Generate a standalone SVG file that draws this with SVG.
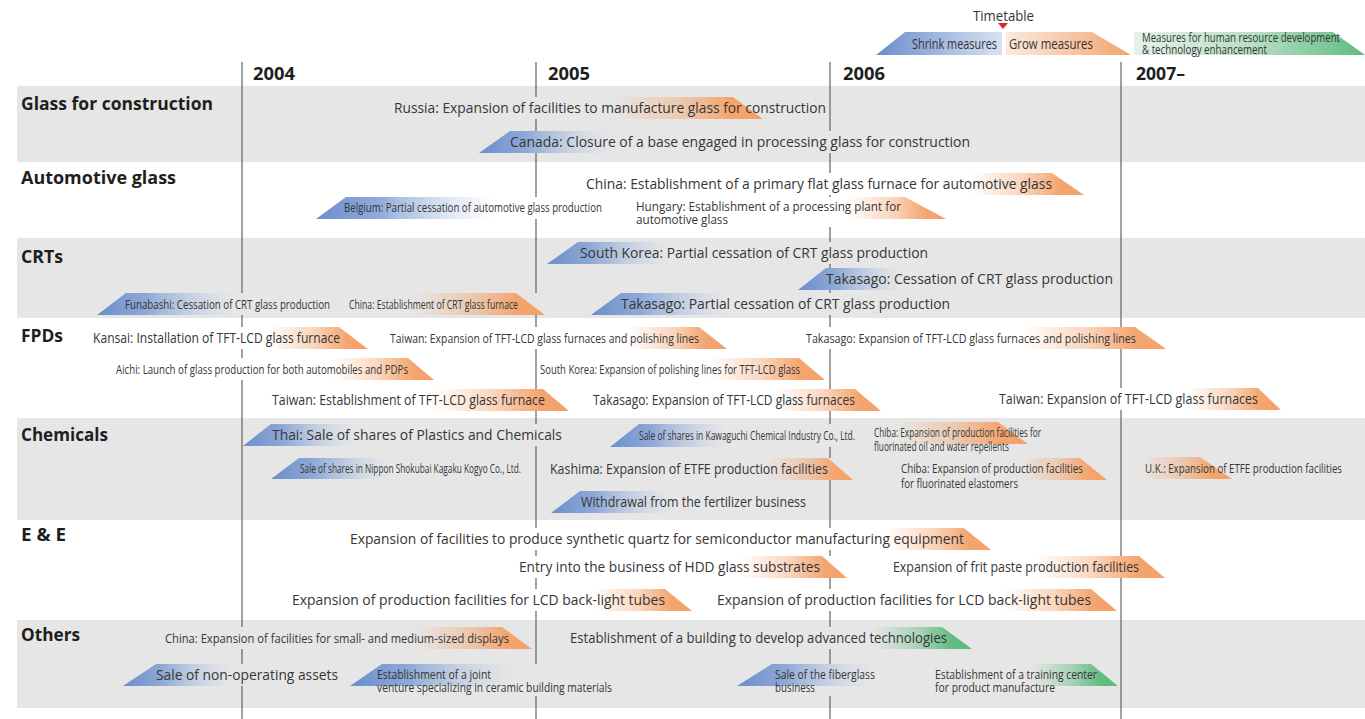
<svg xmlns="http://www.w3.org/2000/svg" width="1365" height="719" viewBox="0 0 1365 719">
<defs>
<linearGradient id="gS" x1="0" y1="0" x2="1" y2="0">
<stop offset="0" stop-color="#6a8ecb" stop-opacity="1"/>
<stop offset="0.35" stop-color="#7d9dd3" stop-opacity="0.85"/>
<stop offset="0.75" stop-color="#9bb4de" stop-opacity="0.3"/>
<stop offset="1" stop-color="#b0c4e6" stop-opacity="0"/>
</linearGradient>
<linearGradient id="gG" x1="0" y1="0" x2="1" y2="0">
<stop offset="0" stop-color="#f4a46d" stop-opacity="0"/>
<stop offset="0.45" stop-color="#f4a46d" stop-opacity="0.45"/>
<stop offset="0.8" stop-color="#f4a46d" stop-opacity="1"/>
<stop offset="1" stop-color="#f3a169" stop-opacity="1"/>
</linearGradient>
<linearGradient id="gN" x1="0" y1="0" x2="1" y2="0">
<stop offset="0" stop-color="#62bc82" stop-opacity="0"/>
<stop offset="0.45" stop-color="#62bc82" stop-opacity="0.45"/>
<stop offset="0.8" stop-color="#62bc82" stop-opacity="1"/>
<stop offset="1" stop-color="#5fbb80" stop-opacity="1"/>
</linearGradient>
<linearGradient id="lS" x1="0" y1="0" x2="1" y2="0">
<stop offset="0" stop-color="#6a8ecb"/>
<stop offset="1" stop-color="#d8e2f2"/>
</linearGradient>
<linearGradient id="lG" x1="0" y1="0" x2="1" y2="0">
<stop offset="0" stop-color="#fbeadf"/>
<stop offset="1" stop-color="#f3a46f"/>
</linearGradient>
<linearGradient id="lN" x1="0" y1="0" x2="1" y2="0">
<stop offset="0" stop-color="#e3f3e8"/>
<stop offset="0.5" stop-color="#b9e0c6"/>
<stop offset="1" stop-color="#5fbb80"/>
</linearGradient>
</defs>
<style>
.t{font-family:"Open Sans","Noto Sans","DejaVu Sans",sans-serif;font-size:14px;fill:#363636}
.c{font-size:13px}
.cs{font-size:12px}
.lab{font-family:"Open Sans","Noto Sans","DejaVu Sans",sans-serif;font-weight:700;font-size:17px;fill:#1e1e1e}
.bG{fill:#e6e6e6}
.bW{fill:#ffffff}
.sh{fill:url(#gS)}
.gr{fill:url(#gG)}
.gn{fill:url(#gN)}
.vl{stroke:#555555;stroke-width:1.1;fill:none}
</style>
<rect x="0" y="0" width="1365" height="719" fill="#ffffff"/>

<g id="bands">
<rect class="bG" x="17" y="86" width="1348" height="76"/>
<rect class="bG" x="17" y="238" width="1348" height="80"/>
<rect class="bG" x="17" y="418" width="1348" height="102"/>
<rect class="bG" x="17" y="620" width="1348" height="88"/>
</g>

<g id="connectors">
<line class="vl" x1="242" y1="62" x2="242" y2="719"/>
<line class="vl" x1="536" y1="62" x2="536" y2="719"/>
<line class="vl" x1="830" y1="62" x2="830" y2="719"/>
<line class="vl" x1="1121" y1="62" x2="1121" y2="719" stroke="#777777" stroke-width="1.4"/>
</g>

<g id="years">
<text class="lab" x="253" y="80" textLength="42" lengthAdjust="spacingAndGlyphs">2004</text>
<text class="lab" x="548" y="80" textLength="42" lengthAdjust="spacingAndGlyphs">2005</text>
<text class="lab" x="843" y="80" textLength="42" lengthAdjust="spacingAndGlyphs">2006</text>
<text class="lab" x="1136" y="80" textLength="49" lengthAdjust="spacingAndGlyphs">2007–</text>
</g>

<g id="legend">
<text class="t" transform="translate(973 21) scale(0.93 1)" textLength="65.6" lengthAdjust="spacingAndGlyphs">Timetable</text>
<polygon points="998,23 1008,23 1003,29" fill="#e3262c"/>
<polygon points="876,55 905,32 1002,32 1002,55" fill="url(#lS)"/>
<text class="t" transform="translate(912 49) scale(0.93 1)" textLength="91.4" lengthAdjust="spacingAndGlyphs">Shrink measures</text>
<polygon points="1006,32 1092,32 1131,55 1006,55" fill="url(#lG)"/>
<text class="t" transform="translate(1009 49) scale(0.93 1)" textLength="90.3" lengthAdjust="spacingAndGlyphs">Grow measures</text>
<polygon points="1134,32 1333,32 1365,55 1134,55" fill="url(#lN)"/>
<text class="t cs" transform="translate(1142 42) scale(0.74 1)"><tspan x="0" y="0" textLength="267.6" lengthAdjust="spacingAndGlyphs">Measures for human resource development</tspan><tspan x="0" y="12" textLength="168.9" lengthAdjust="spacingAndGlyphs">&amp; technology enhancement</tspan></text>
</g>

<g id="categories">
<text class="lab" x="21" y="110" textLength="192" lengthAdjust="spacingAndGlyphs">Glass for construction</text>
<text class="lab" x="21" y="184" textLength="155" lengthAdjust="spacingAndGlyphs">Automotive glass</text>
<text class="lab" x="21" y="263" textLength="42" lengthAdjust="spacingAndGlyphs">CRTs</text>
<text class="lab" x="21" y="342" textLength="42" lengthAdjust="spacingAndGlyphs">FPDs</text>
<text class="lab" x="21" y="441" textLength="87" lengthAdjust="spacingAndGlyphs">Chemicals</text>
<text class="lab" x="21" y="541" textLength="45" lengthAdjust="spacingAndGlyphs">E &amp; E</text>
<text class="lab" x="21" y="641" textLength="59" lengthAdjust="spacingAndGlyphs">Others</text>
</g>

<!-- Glass for construction -->
<g id="n-russia"><rect class="bG" x="390" y="97" width="438" height="22"/><polygon class="gr" points="613,97 733,97 763,119 613,119"/><text class="t" transform="translate(394 113) scale(0.93 1)" textLength="464.5" lengthAdjust="spacingAndGlyphs">Russia: Expansion of facilities to manufacture glass for construction</text></g>
<g id="n-canada"><rect class="bG" x="479" y="131" width="494" height="22"/><polygon class="sh" points="479,153 510,131 610,131 610,153"/><text class="t" transform="translate(510 147) scale(0.93 1)" textLength="494.6" lengthAdjust="spacingAndGlyphs">Canada: Closure of a base engaged in processing glass for construction</text></g>

<!-- Automotive glass -->
<g id="n-china-auto"><rect class="bW" x="582" y="173" width="504" height="22"/><polygon class="gr" points="970,173 1052,173 1084,195 970,195"/><text class="t" transform="translate(586 189) scale(0.93 1)" textLength="501.1" lengthAdjust="spacingAndGlyphs">China: Establishment of a primary flat glass furnace for automotive glass</text></g>
<g id="n-belgium"><rect class="bW" x="316" y="197" width="290" height="22"/><polygon class="sh" points="316,219 346,197 497,197 497,219"/><text class="t c" transform="translate(344 212) scale(0.74 1)" textLength="348.6" lengthAdjust="spacingAndGlyphs">Belgium: Partial cessation of automotive glass production</text></g>
<g id="n-hungary"><rect class="bW" x="632" y="197" width="315" height="30"/><polygon class="gr" points="849,197 905,197 946,219 849,219"/><text class="t cs" transform="translate(636 211) scale(0.74 1)"><tspan x="0" y="0" textLength="358.1" lengthAdjust="spacingAndGlyphs">Hungary: Establishment of a processing plant for</tspan><tspan x="0" y="13" textLength="124.3" lengthAdjust="spacingAndGlyphs">automotive glass</tspan></text></g>

<!-- CRTs -->
<g id="n-skorea-crt"><rect class="bG" x="547" y="242" width="384" height="22"/><polygon class="sh" points="547,264 578,242 670,242 670,264"/><text class="t" transform="translate(580 258) scale(0.93 1)" textLength="374.2" lengthAdjust="spacingAndGlyphs">South Korea: Partial cessation of CRT glass production</text></g>
<g id="n-takasago-cess"><rect class="bG" x="798" y="268" width="318" height="22"/><polygon class="sh" points="798,290 826,268 903,268 903,290"/><text class="t" transform="translate(826 284) scale(0.93 1)" textLength="308.6" lengthAdjust="spacingAndGlyphs">Takasago: Cessation of CRT glass production</text></g>
<g id="n-funabashi"><rect class="bG" x="97" y="293" width="237" height="22"/><polygon class="sh" points="97,315 126,293 235,293 235,315"/><text class="t c" transform="translate(125 309) scale(0.74 1)" textLength="277" lengthAdjust="spacingAndGlyphs">Funabashi: Cessation of CRT glass production</text></g>
<g id="n-china-crt"><rect class="bG" x="345" y="293" width="201" height="22"/><polygon class="gr" points="413,293 516,293 545,315 413,315"/><text class="t c" transform="translate(349 309) scale(0.74 1)" textLength="228.4" lengthAdjust="spacingAndGlyphs">China: Establishment of CRT glass furnace</text></g>
<g id="n-takasago-partial"><rect class="bG" x="591" y="293" width="363" height="22"/><polygon class="sh" points="591,315 621,293 728,293 728,315"/><text class="t" transform="translate(621 309) scale(0.93 1)" textLength="353.8" lengthAdjust="spacingAndGlyphs">Takasago: Partial cessation of CRT glass production</text></g>

<!-- FPDs -->
<g id="n-kansai"><rect class="bW" x="89" y="327" width="280" height="22"/><polygon class="gr" points="268,327 339,327 368,349 268,349"/><text class="t" transform="translate(93 343) scale(0.93 1)" textLength="265.6" lengthAdjust="spacingAndGlyphs">Kansai: Installation of TFT-LCD glass furnace</text></g>
<g id="n-taiwan-polish"><rect class="bW" x="386" y="327" width="342" height="22"/><polygon class="gr" points="627,327 699,327 727,349 627,349"/><text class="t c" transform="translate(390 343) scale(0.74 1)" textLength="417.6" lengthAdjust="spacingAndGlyphs">Taiwan: Expansion of TFT-LCD glass furnaces and polishing lines</text></g>
<g id="n-takasago-polish"><rect class="bW" x="802" y="327" width="365" height="22"/><polygon class="gr" points="1022,327 1135,327 1166,349 1022,349"/><text class="t c" transform="translate(806 343) scale(0.74 1)" textLength="445.9" lengthAdjust="spacingAndGlyphs">Takasago: Expansion of TFT-LCD glass furnaces and polishing lines</text></g>
<g id="n-aichi"><rect class="bW" x="112" y="358" width="323" height="22"/><polygon class="gr" points="333,358 408,358 434,380 333,380"/><text class="t c" transform="translate(116 374) scale(0.74 1)" textLength="394.6" lengthAdjust="spacingAndGlyphs">Aichi: Launch of glass production for both automobiles and PDPs</text></g>
<g id="n-skorea-polish"><rect class="bW" x="539" y="358" width="287" height="22"/><polygon class="gr" points="709,358 799,358 825,380 709,380"/><text class="t c" transform="translate(540 374) scale(0.74 1)" textLength="351.4" lengthAdjust="spacingAndGlyphs">South Korea: Expansion of polishing lines for TFT-LCD glass</text></g>
<g id="n-taiwan-estab"><rect class="bW" x="268" y="389" width="302" height="22"/><polygon class="gr" points="432,389 543,389 569,411 432,411"/><text class="t" transform="translate(272 405) scale(0.93 1)" textLength="293.5" lengthAdjust="spacingAndGlyphs">Taiwan: Establishment of TFT-LCD glass furnace</text></g>
<g id="n-takasago-furn"><rect class="bW" x="589" y="389" width="293" height="22"/><polygon class="gr" points="776,389 855,389 881,411 776,411"/><text class="t" transform="translate(593 405) scale(0.93 1)" textLength="281.7" lengthAdjust="spacingAndGlyphs">Takasago: Expansion of TFT-LCD glass furnaces</text></g>
<g id="n-taiwan-furn"><rect class="bW" x="995" y="388" width="287" height="22"/><polygon class="gr" points="1186,388 1258,388 1281,410 1186,410"/><text class="t" transform="translate(999 404) scale(0.93 1)" textLength="278.5" lengthAdjust="spacingAndGlyphs">Taiwan: Expansion of TFT-LCD glass furnaces</text></g>

<!-- Chemicals -->
<g id="n-thai"><rect class="bG" x="243" y="424" width="322" height="22"/><polygon class="sh" points="243,446 271,424 356,424 356,446"/><text class="t" transform="translate(272 440) scale(0.93 1)" textLength="311.8" lengthAdjust="spacingAndGlyphs">Thai: Sale of shares of Plastics and Chemicals</text></g>
<g id="n-kawaguchi"><rect class="bG" x="610" y="424" width="248" height="23"/><polygon class="sh" points="610,447 639,424 727,424 727,447"/><text class="t c" transform="translate(639 440) scale(0.74 1)" textLength="291.9" lengthAdjust="spacingAndGlyphs">Sale of shares in Kawaguchi Chemical Industry Co., Ltd.</text></g>
<g id="n-chiba-oil"><rect class="bG" x="870" y="422" width="174" height="33"/><polygon class="gr" points="898,422 998,422 1028,444 898,444"/><text class="t cs" transform="translate(874 437) scale(0.74 1)"><tspan x="0" y="0" textLength="225.7" lengthAdjust="spacingAndGlyphs">Chiba: Expansion of production facilities for</tspan><tspan x="0" y="14" textLength="182.4" lengthAdjust="spacingAndGlyphs">fluorinated oil and water repellents</tspan></text></g>
<g id="n-nippon"><rect class="bG" x="271" y="458" width="253" height="21"/><polygon class="sh" points="271,479 299,458 390,458 390,479"/><text class="t c" transform="translate(300 473) scale(0.74 1)" textLength="298.6" lengthAdjust="spacingAndGlyphs">Sale of shares in Nippon Shokubai Kagaku Kogyo Co., Ltd.</text></g>
<g id="n-kashima"><rect class="bG" x="546" y="458" width="308" height="22"/><polygon class="gr" points="766,458 828,458 853,480 766,480"/><text class="t" transform="translate(550 474) scale(0.93 1)" textLength="298.9" lengthAdjust="spacingAndGlyphs">Kashima: Expansion of ETFE production facilities</text></g>
<g id="n-chiba-elast"><rect class="bG" x="897" y="458" width="211" height="34"/><polygon class="gr" points="1020,458 1080,458 1107,480 1020,480"/><text class="t cs" transform="translate(901 473) scale(0.74 1)"><tspan x="0" y="0" textLength="245.9" lengthAdjust="spacingAndGlyphs">Chiba: Expansion of production facilities</tspan><tspan x="0" y="15" textLength="158.1" lengthAdjust="spacingAndGlyphs">for fluorinated elastomers</tspan></text></g>
<g id="n-uk"><rect class="bG" x="1141" y="457" width="204" height="22"/><polygon class="gr" points="1141,457 1200,457 1232,479 1141,479"/><text class="t c" transform="translate(1145 473) scale(0.74 1)" textLength="266.2" lengthAdjust="spacingAndGlyphs">U.K.: Expansion of ETFE production facilities</text></g>
<g id="n-withdrawal"><rect class="bG" x="551" y="491" width="258" height="22"/><polygon class="sh" points="551,513 580,491 673,491 673,513"/><text class="t" transform="translate(581 507) scale(0.93 1)" textLength="241.9" lengthAdjust="spacingAndGlyphs">Withdrawal from the fertilizer business</text></g>

<!-- E & E -->
<g id="n-quartz"><rect class="bW" x="346" y="528" width="646" height="22"/><polygon class="gr" points="885,528 964,528 991,550 885,550"/><text class="t" transform="translate(350 544) scale(0.93 1)" textLength="660.2" lengthAdjust="spacingAndGlyphs">Expansion of facilities to produce synthetic quartz for semiconductor manufacturing equipment</text></g>
<g id="n-hdd"><rect class="bW" x="515" y="556" width="333" height="22"/><polygon class="gr" points="741,556 822,556 847,578 741,578"/><text class="t" transform="translate(519 572) scale(0.93 1)" textLength="323.7" lengthAdjust="spacingAndGlyphs">Entry into the business of HDD glass substrates</text></g>
<g id="n-frit"><rect class="bW" x="889" y="556" width="277" height="22"/><polygon class="gr" points="1034,556 1139,556 1165,578 1034,578"/><text class="t" transform="translate(893 572) scale(0.93 1)" textLength="264.5" lengthAdjust="spacingAndGlyphs">Expansion of frit paste production facilities</text></g>
<g id="n-lcd1"><rect class="bW" x="288" y="589" width="405" height="22"/><polygon class="gr" points="594,589 665,589 692,611 594,611"/><text class="t" transform="translate(292 605) scale(0.93 1)" textLength="401.1" lengthAdjust="spacingAndGlyphs">Expansion of production facilities for LCD back-light tubes</text></g>
<g id="n-lcd2"><rect class="bW" x="713" y="589" width="405" height="22"/><polygon class="gr" points="1003,589 1091,589 1117,611 1003,611"/><text class="t" transform="translate(717 605) scale(0.93 1)" textLength="402.2" lengthAdjust="spacingAndGlyphs">Expansion of production facilities for LCD back-light tubes</text></g>

<!-- Others -->
<g id="n-china-disp"><rect class="bG" x="161" y="627" width="372" height="22"/><polygon class="gr" points="415,627 502,627 532,649 415,649"/><text class="t c" transform="translate(165 643) scale(0.74 1)" textLength="464.9" lengthAdjust="spacingAndGlyphs">China: Expansion of facilities for small- and medium-sized displays</text></g>
<g id="n-building"><rect class="bG" x="566" y="627" width="407" height="22"/><polygon class="gn" points="872,627 942,627 972,649 872,649"/><text class="t" transform="translate(570 643) scale(0.93 1)" textLength="405.4" lengthAdjust="spacingAndGlyphs">Establishment of a building to develop advanced technologies</text></g>
<g id="n-nonop"><rect class="bG" x="123" y="664" width="218" height="22"/><polygon class="sh" points="123,686 156,664 232,664 232,686"/><text class="t" transform="translate(156 680) scale(0.93 1)" textLength="195.7" lengthAdjust="spacingAndGlyphs">Sale of non-operating assets</text></g>
<g id="n-joint"><rect class="bG" x="350" y="664" width="265" height="32"/><polygon class="sh" points="350,686 382,664 513,664 513,686"/><text class="t cs" transform="translate(377 679) scale(0.74 1)"><tspan x="0" y="0" textLength="154.1" lengthAdjust="spacingAndGlyphs">Establishment of a joint</tspan><tspan x="0" y="13" textLength="317.6" lengthAdjust="spacingAndGlyphs">venture specializing in ceramic building materials</tspan></text></g>
<g id="n-fiber"><rect class="bG" x="737" y="664" width="141" height="32"/><polygon class="sh" points="737,686 772,664 872,664 872,686"/><text class="t cs" transform="translate(775 679) scale(0.74 1)"><tspan x="0" y="0" textLength="135.1" lengthAdjust="spacingAndGlyphs">Sale of the fiberglass</tspan><tspan x="0" y="13" textLength="54.1" lengthAdjust="spacingAndGlyphs">business</tspan></text></g>
<g id="n-training"><rect class="bG" x="931" y="664" width="188" height="32"/><polygon class="gn" points="1030,664 1091,664 1118,686 1030,686"/><text class="t cs" transform="translate(935 679) scale(0.74 1)"><tspan x="0" y="0" textLength="218.9" lengthAdjust="spacingAndGlyphs">Establishment of a training center</tspan><tspan x="0" y="13" textLength="162.2" lengthAdjust="spacingAndGlyphs">for product manufacture</tspan></text></g>
</svg>
